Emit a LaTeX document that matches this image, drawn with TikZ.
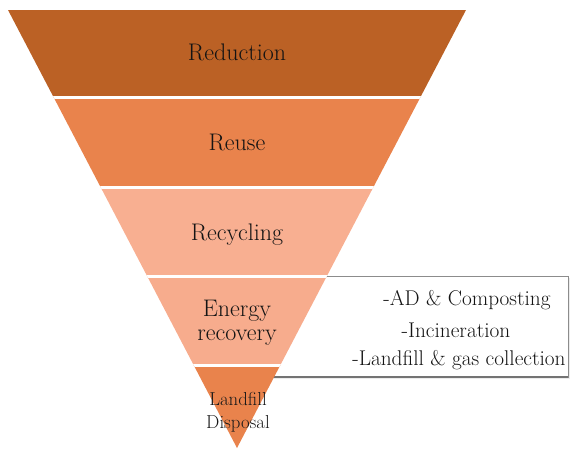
\documentclass[tikz,border=0pt]{standalone}
\begin{document}
\begin{tikzpicture}[x=1pt,y=-1pt,
  lvl/.style={font=\fontsize{24}{28}\selectfont, text=black!92, inner sep=0pt, anchor=base},
  side/.style={font=\fontsize{21.3}{25}\selectfont, text=black!92, inner sep=0pt, anchor=base},
  small/.style={font=\fontsize{18.8}{22}\selectfont, text=black!90, inner sep=0pt, anchor=base},
  sep/.style={white, line width=3pt},
  boxline/.style={draw=black!45, line width=1pt}]
\definecolor{cA}{HTML}{BB6125}
\definecolor{cB}{HTML}{E9834C}
\definecolor{cC}{HTML}{F8AF91}
\definecolor{cD}{HTML}{F7AC8D}
\definecolor{cE}{HTML}{E9834C}
\useasboundingbox (0,0) rectangle (570,448);
% side box behind the triangle
\fill[black!8] (252,278) rectangle (570,379);
\draw[boxline, fill=white] (250,276) rectangle (568,377);
\draw[black!55, line width=1.4pt] (250,377) -- (568,377);
% triangle bands
\begin{scope}
\clip (8,10) -- (466,10) -- (237,448) -- cycle;
\fill[cA] (0,0) rectangle (570,97);
\fill[cB] (0,97) rectangle (570,187);
\fill[cC] (0,187) rectangle (570,276);
\fill[cD] (0,276) rectangle (570,365);
\fill[cE] (0,365) rectangle (570,450);
\draw[sep] (0,97) -- (570,97);
\draw[sep] (0,187) -- (570,187);
\draw[sep] (0,276) -- (570,276);
\draw[sep] (0,365) -- (570,365);
\end{scope}
% labels
\node[lvl] (red) at (237,60) {Reduction};
\node[lvl] (reu) at (237,150) {Reuse};
\node[lvl] (rec) at (237,240) {Recycling};
\node[lvl] (en1) at (237,316) {Energy};
\node[lvl] (en2) at (237,340) {recovery};
\node[small] (lf1) at (238,405) {Landfill};
\node[small] (lf2) at (238,428) {Disposal};
\node[side] (s1) at (467,305) {-AD \& Composting};
\node[side] (s2) at (456,337) {-Incineration};
\node[side] (s3) at (459,365) {-Landfill \& gas collection};
\end{tikzpicture}
\end{document}
